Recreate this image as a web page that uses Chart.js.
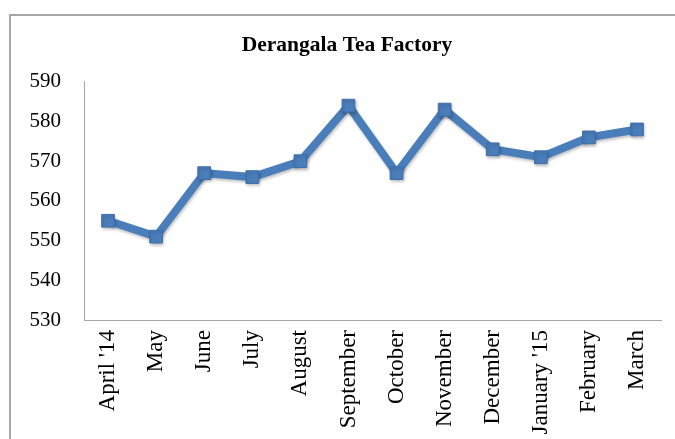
<!DOCTYPE html>
<html>
<head>
<meta charset="utf-8">
<script src="https://cdn.jsdelivr.net/npm/chart.js@4.4.1/dist/chart.umd.min.js"></script>
<style>
  html, body { margin: 0; padding: 0; background: #fff; }
  #wrap { position: relative; width: 675px; height: 439px; overflow: hidden; }
  #frame { position: absolute; left: 9px; top: 14px; width: 700px; height: 500px;
           border-left: 2px solid #a6a6a6; border-top: 2px solid #a6a6a6; }
  canvas { position: absolute; left: 0; top: 0; }
</style>
</head>
<body>
<div id="wrap">
  <div id="frame"></div>
  <canvas id="chart" width="675" height="439"></canvas>
</div>
<script>
// months of the financial year
const months = ["April '14", 'May', 'June', 'July', 'August', 'September', 'October',
  'November', 'December', "January '15", 'February', 'March'];
// values
const values = [555, 551, 567, 566, 570, 584, 567, 583, 573, 571, 576, 578];
const yTicks = [530, 540, 550, 560, 570, 580, 590];

const serif = "'Liberation Serif', 'DejaVu Serif', serif";

// soft drop shadow under the line, like the office chart
const shadow = {
  id: 'shadow',
  beforeDatasetsDraw(chart) {
    const ctx = chart.ctx;
    ctx.save();
    ctx.shadowColor = 'rgba(0,0,0,0.25)';
    ctx.shadowBlur = 3;
    ctx.shadowOffsetX = 1;
    ctx.shadowOffsetY = 2;
  },
  afterDatasetsDraw(chart) {
    chart.ctx.restore();
  }
};

const ctx = document.getElementById('chart').getContext('2d');
new Chart(ctx, {
  type: 'line',
  data: {
    labels: months,
    datasets: [{
      data: values,
      borderColor: '#4a7ebb',
      borderWidth: 8,
      pointStyle: 'rect',
      pointRadius: 9,
      pointBackgroundColor: '#4a7ebb',
      pointBorderColor: '#3f70aa',
      pointBorderWidth: 1,
      tension: 0
    }]
  },
  options: {
    responsive: false,
    animation: false,
    layout: { padding: { left: 29, right: 10, top: 0, bottom: 0 } },
    plugins: {
      legend: { display: false },
      tooltip: { enabled: false },
      title: {
        display: true,
        text: 'Derangala Tea Factory',
        color: '#000',
        font: { family: serif, size: 21.5, weight: 'bold' },
        padding: { top: 33, bottom: 23 }
      }
    },
    scales: {
      x: {
        offset: true,
        grid: { display: false, drawTicks: false },
        border: { display: true, color: '#a6a6a6', width: 1 },
        ticks: {
          color: '#000',
          font: { family: serif, size: 23 },
          minRotation: 90,
          maxRotation: 90,
          padding: 10,
          autoSkip: false
        },
        afterFit(scale) { scale.height = 119; }
      },
      y: {
        min: 530,
        max: 590,
        afterBuildTicks(scale) { scale.ticks = yTicks.map(v => ({ value: v })); },
        grid: { display: false, drawTicks: false },
        border: { display: true, color: '#a6a6a6', width: 1 },
        ticks: {
          color: '#000',
          font: { family: serif, size: 21 },
          padding: 23
        },
        afterFit(scale) { scale.width = 55; }
      }
    }
  },
  plugins: [shadow]
});
</script>
</body>
</html>
